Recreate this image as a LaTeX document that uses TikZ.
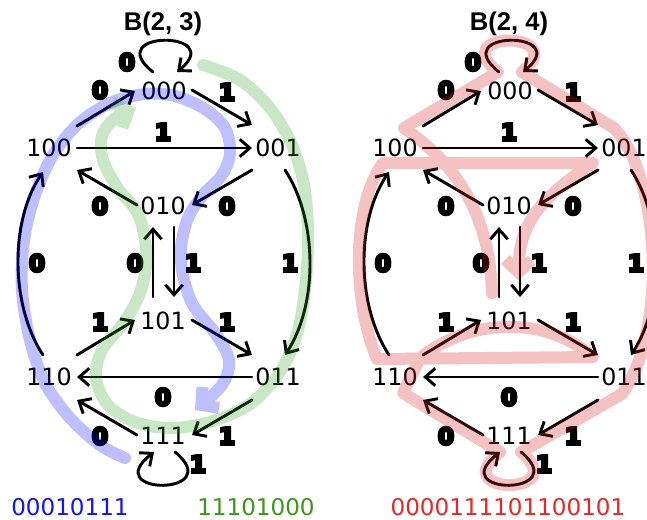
\documentclass[tikz,border=0pt]{standalone}
\usepackage{fontspec}
\setmainfont{DejaVu Sans}
\newfontfamily\titlefont{Liberation Sans}
\newfontfamily\edgefont{DejaVu Sans}[UprightFont=* Bold, FakeBold=12]
\usetikzlibrary{arrows.meta}

\definecolor{hlblue}{RGB}{0,0,255}
\definecolor{hlgreen}{RGB}{40,160,30}
\definecolor{hlred}{RGB}{215,30,30}
\definecolor{txtblue}{RGB}{20,20,235}
\definecolor{txtgreen}{RGB}{60,150,30}
\definecolor{txtred}{RGB}{228,40,40}

\tikzset{
  vert/.style={inner sep=0pt, font=\fontsize{17.8}{20}\selectfont},
  elab/.style={inner sep=0pt, font=\edgefont\fontsize{17.5}{20}\selectfont},
  ttl/.style={inner sep=0pt, anchor=base, font=\titlefont\bfseries\fontsize{19.2}{22}\selectfont},
  seq/.style={inner sep=0pt, font=\fontsize{17.3}{20}\selectfont},
  arr/.style={line width=2.2pt, line cap=round, line join=round,
    -{Straight Barb[length=7.5pt,width=13pt]}},
  hl/.style={line width=9pt, line cap=round, line join=round},
  hltip/.style={-{Straight Barb[length=9pt,width=20pt]}},
}

% One de Bruijn graph on the eight 3-bit words; #1 = horizontal shift, #2 = name prefix
\newcommand\dbgraph[3]{%
\begin{scope}[shift={(#1,0)}]
  \node[ttl] (#2title) at (163,30) {#3};
  \node[vert] (#2000) at (164,91)  {000};
  \node[vert] (#2100) at (49,148)  {100};
  \node[vert] (#2001) at (278,148) {001};
  \node[vert] (#2010) at (163,206) {010};
  \node[vert] (#2101) at (163,321) {101};
  \node[vert] (#2110) at (49,377)  {110};
  \node[vert] (#2011) at (278,377) {011};
  \node[vert] (#2111) at (163,436) {111};
  % edges
  \draw[arr] ([shift={(-11,-19)}]#2000.center) .. controls ([shift={(-64,-61)}]#2000.center)
     and ([shift={(64,-61)}]#2000.center) .. ([shift={(13,-19)}]#2000.center);
  \draw[arr] ([shift={(28,-22)}]#2100.center) -- ([shift={(-29,0)}]#2000.center);
  \draw[arr] ([shift={(28,-1)}]#2000.center) -- ([shift={(-26,-23)}]#2001.center);
  \draw[arr] ([shift={(28,0)}]#2100.center) -- ([shift={(-26,0)}]#2001.center);
  \draw[arr] ([shift={(-26,22)}]#2001.center) -- ([shift={(29,-1)}]#2010.center);
  \draw[arr] ([shift={(-26,-1)}]#2010.center) -- ([shift={(28,22)}]#2100.center);
  \draw[arr] ([shift={(-10,-24)}]#2101.center) -- ([shift={(-10,21)}]#2010.center);
  \draw[arr] ([shift={(11,21)}]#2010.center) -- ([shift={(11,-24)}]#2101.center);
  \draw[arr] ([shift={(7,22)}]#2001.center) .. controls ([shift={(40,72)}]#2001.center)
     and ([shift={(40,-72)}]#2011.center) .. ([shift={(7,-22)}]#2011.center);
  \draw[arr] ([shift={(-6,-22)}]#2110.center) .. controls ([shift={(-39,-72)}]#2110.center)
     and ([shift={(-39,72)}]#2100.center) .. ([shift={(-6,24)}]#2100.center);
  \draw[arr] ([shift={(28,-22)}]#2110.center) -- ([shift={(-28,-1)}]#2101.center);
  \draw[arr] ([shift={(29,-1)}]#2101.center) -- ([shift={(-26,-22)}]#2011.center);
  \draw[arr] ([shift={(-26,0)}]#2011.center) -- ([shift={(28,0)}]#2110.center);
  \draw[arr] ([shift={(-26,23)}]#2011.center) -- ([shift={(29,-1)}]#2111.center);
  \draw[arr] ([shift={(-26,-1)}]#2111.center) -- ([shift={(28,23)}]#2110.center);
  \draw[arr] ([shift={(12,16)}]#2111.center) .. controls ([shift={(65,60)}]#2111.center)
     and ([shift={(-65,60)}]#2111.center) .. ([shift={(-9,16)}]#2111.center);
  % edge labels
  \node[elab] (#2e1)  at (127,62)  {0};
  \node[elab] (#2e2)  at (100,90)  {0};
  \node[elab] (#2e3)  at (227,92)  {1};
  \node[elab] (#2e4)  at (163,132) {1};
  \node[elab] (#2e5)  at (100,206) {0};
  \node[elab] (#2e6)  at (227,206) {0};
  \node[elab] (#2e7)  at (37,263)  {0};
  \node[elab] (#2e8)  at (135,263) {0};
  \node[elab] (#2e9)  at (193,263) {1};
  \node[elab] (#2e10) at (290,263) {1};
  \node[elab] (#2e11) at (100,322) {1};
  \node[elab] (#2e12) at (227,322) {1};
  \node[elab] (#2e13) at (163,397) {0};
  \node[elab] (#2e14) at (100,436) {0};
  \node[elab] (#2e15) at (227,436) {1};
  \node[elab] (#2e16) at (198,464) {1};
\end{scope}}

\begin{document}
\begin{tikzpicture}[x=0.75pt,y=-0.75pt]
  \fill[white] (0,0) rectangle (647,519);
  \useasboundingbox (0,0) rectangle (647,519);
  \clip (0,0) rectangle (647,519);

  \dbgraph{0}{a}{B(2, 3)}
  \dbgraph{346}{b}{B(2, 4)}

  % cycle 00010111
  \begin{scope}[transparency group, opacity=0.25]
    \draw[hl, hlblue, hltip] plot[smooth, tension=0.55] coordinates {
      (125,458) (100,445) (70,418) (45,383) (30,340) (22,290) (24,240) (35,195)
      (53,155) (78,124) (110,103) (145,94) (175,96) (205,109) (225,128) (230,153)
      (222,175) (203,195) (188,218) (181,248) (183,275) (193,305) (215,333)
      (229,360) (222,385) (195,410)};
  \end{scope}
  % cycle 11101000
  \begin{scope}[transparency group, opacity=0.25]
    \draw[hl, hlgreen, hltip] plot[smooth, tension=0.55] coordinates {
      (203,65) (240,80) (270,108) (292,145) (304,185) (308,230) (306,280)
      (298,330) (280,372) (250,404) (210,422) (170,428) (135,422) (108,405)
      (96,378) (102,350) (122,325) (138,298) (146,268) (145,240) (137,212)
      (117,187) (103,160) (102,136) (114,119) (136,108)};
  \end{scope}
  % Euler circuit 0000111101100101
  \begin{scope}[transparency group, opacity=0.27]
    \draw[hl, hlred, hltip] (492,293) .. controls (490,225) and (465,170) .. (404,128)
      -- (498,72) .. controls (445,30) and (573,30) .. (522,72)
      -- (614,128) .. controls (660,175) and (668,330) .. (622,394)
      -- (521,452) .. controls (574,496) and (444,496) .. (500,452)
      -- (403,393) -- (420,358) .. controls (470,318) and (545,315) .. (593,357)
      -- (377,359) .. controls (352,300) and (352,205) .. (383,163)
      -- (593,163) .. controls (545,195) and (520,220) .. (518,280);
  \end{scope}

  \node[seq, txtblue]  (s1) at (70,507)  {00010111};
  \node[seq, txtgreen] (s2) at (256,507) {11101000};
  \node[seq, txtred]   (s3) at (508,507) {0000111101100101};
\end{tikzpicture}
\end{document}
